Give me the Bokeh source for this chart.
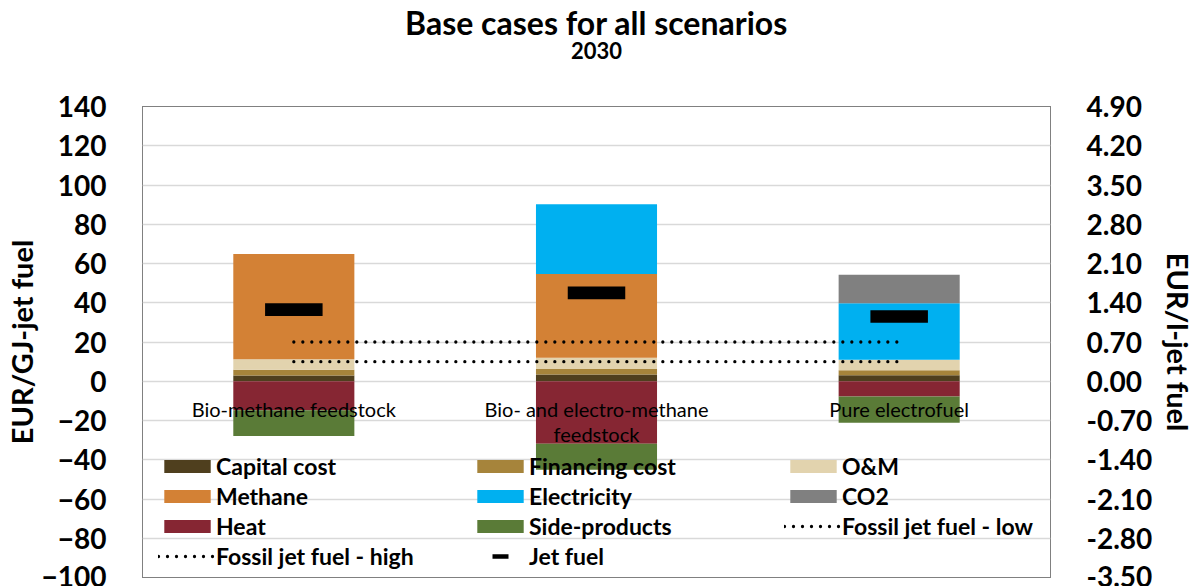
import math
from bokeh.plotting import figure
from bokeh.models import (ColumnDataSource, Range1d, LinearAxis, FixedTicker,
                          NumeralTickFormatter, Legend, LegendItem, Title)
from bokeh.core.properties import value
from bokeh.embed import file_html
from bokeh.resources import INLINE

# ---------------- data ----------------
categories = ["Bio-methane feedstock", "Bio- and electro-methane feedstock", "Pure electrofuel"]
category_labels = ["Bio-methane feedstock", "Bio- and electro-methane\nfeedstock", "Pure electrofuel"]

capital_cost = [2.9, 3.5, 3.0]
financing_cost = [2.9, 2.7, 2.6]
om = [5.4, 5.8, 5.4]
methane = [53.6, 42.7, 0.0]
electricity = [0.0, 35.5, 28.7]
co2 = [0.0, 0.0, 14.6]
heat = [-14.8, -31.9, -7.8]
side_products = [-13.1, -13.2, -13.4]
jet_fuel = [36.5, 45.0, 33.0]
fossil_low = 10.0
fossil_high = 20.0

left_ticks = [-100, -80, -60, -40, -20, 0, 20, 40, 60, 80, 100, 120, 140]
right_ticks = [-3.5, -2.8, -2.1, -1.4, -0.7, 0.0, 0.7, 1.4, 2.1, 2.8, 3.5, 4.2, 4.9]

pos_keys = ["Capital cost", "Financing cost", "O&M", "Methane", "Electricity", "CO2"]
pos_vals = [capital_cost, financing_cost, om, methane, electricity, co2]
pos_colors = ["#4f3f1e", "#a6843b", "#e2d3ae", "#d38135", "#00b0f0", "#808080"]
neg_keys = ["Heat", "Side-products"]
neg_vals = [heat, side_products]
neg_colors = ["#862633", "#5a7b37"]

FONT = "Lato"

src = {"cat": categories}
for k, v in zip(pos_keys + neg_keys, pos_vals + neg_vals):
    src[k] = v
source = ColumnDataSource(src)

p = figure(width=1199, height=586, x_range=categories, y_range=Range1d(-100, 140),
           x_axis_location=None, toolbar_location=None, output_backend="svg", title=None,
           min_border_left=140, min_border_right=148, min_border_top=106, min_border_bottom=9)
p.background_fill_color = "white"
p.border_fill_color = "white"
p.outline_line_color = "black"
p.outline_line_dash = "1 1"
p.outline_line_width = 1
p.x_range.range_padding = 0

pos_r = p.vbar_stack(pos_keys, x="cat", width=0.40, source=source,
                     fill_color=pos_colors, line_color=None)
neg_r = p.vbar_stack(neg_keys, x="cat", width=0.40, source=source,
                     fill_color=neg_colors, line_color=None)

hi_r = p.line(x=[categories[0], categories[-1]], y=[fossil_high, fossil_high],
              line_color="black", line_width=3.3, line_dash="0 9", line_cap="round")
lo_r = p.line(x=[categories[0], categories[-1]], y=[fossil_low, fossil_low],
              line_color="black", line_width=3.3, line_dash="0 9", line_cap="round")

p.rect(x=categories, y=jet_fuel, width=0.19, height=12.7, height_units="screen",
       fill_color="black", line_color=None)
# one-point line: draws nothing in the plot, only provides the legend dash
jet_legend_r = p.line(x=categories[:1], y=jet_fuel[:1], line_color="black",
                      line_width=4.5, line_dash="0 21 16 100")

# category labels drawn at zero line
p.text(x=categories, y=[0, 0, 0], text=category_labels, text_align="center",
       text_baseline="top", y_offset=16, text_font=value(FONT), text_font_size="20px",
       text_color="black", text_line_height=1.04)

# axes
yax = p.yaxis[0]
yax.ticker = FixedTicker(ticks=left_ticks)
p.ygrid.ticker = FixedTicker(ticks=left_ticks)
p.ygrid.grid_line_color = "#d9d9d9"
p.ygrid.grid_line_width = 1.3
p.xgrid.visible = False

p.extra_y_ranges = {"r": Range1d(right_ticks[0], right_ticks[-1])}
rax = LinearAxis(y_range_name="r", ticker=FixedTicker(ticks=right_ticks),
                 formatter=NumeralTickFormatter(format="0.00"))
p.add_layout(rax, "right")

for ax, lab in ((yax, "EUR/GJ-jet fuel"), (rax, "EUR/l-jet fuel")):
    ax.axis_label = lab
    ax.axis_line_color = None
    ax.major_tick_line_color = None
    ax.minor_tick_line_color = None
    ax.major_label_text_font = FONT
    ax.major_label_text_font_style = "bold"
    ax.major_label_text_font_size = "28px"
    ax.major_label_text_color = "black"
    ax.major_label_standoff = 30
    ax.axis_label_text_font = FONT
    ax.axis_label_text_font_style = "bold"
    ax.axis_label_text_font_size = "29px"
    ax.axis_label_text_color = "black"
yax.axis_label_standoff = 0
rax.axis_label_standoff = 6

# titles (first added sits nearest the frame)
p.add_layout(Title(text=" ", standoff=30, text_font=FONT, text_font_size="13px"), "above")
p.add_layout(Title(text="2030", align="center", vertical_align="bottom", standoff=0,
                   text_font=FONT, text_font_style="bold", text_font_size="22px",
                   text_color="black"), "above")
p.add_layout(Title(text="Base cases for all scenarios", align="center",
                   vertical_align="bottom", standoff=-5, text_font=FONT,
                   text_font_style="bold", text_font_size="32px", text_color="black"), "above")

items = [LegendItem(label=k, renderers=[r]) for k, r in zip(pos_keys, pos_r)]
items += [LegendItem(label=k, renderers=[r]) for k, r in zip(neg_keys, neg_r)]
items += [LegendItem(label="Fossil jet fuel - low", renderers=[lo_r]),
          LegendItem(label="Fossil jet fuel - high", renderers=[hi_r]),
          LegendItem(label="Jet fuel", renderers=[jet_legend_r])]
legend = Legend(items=items, location=(16, 7), orientation="horizontal", ncols=3,
                glyph_width=58, glyph_height=16, label_standoff=-3, label_width=253,
                spacing=2, padding=0, margin=0, border_line_color=None,
                background_fill_alpha=0, label_text_font=FONT,
                label_text_font_style="bold", label_text_font_size="23px",
                label_text_color="black")
p.add_layout(legend, "center")

open("out.html", "w").write(file_html(p, INLINE))
